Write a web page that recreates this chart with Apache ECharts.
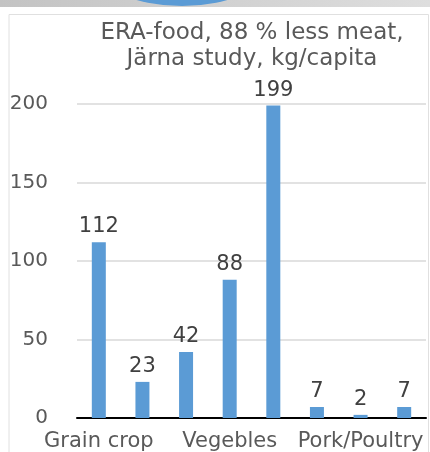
<!DOCTYPE html>
<html>
<head>
<meta charset="utf-8">
<script src="https://cdn.jsdelivr.net/npm/echarts@6/dist/echarts.min.js"></script>
<style>
  html, body { margin: 0; padding: 0; background: #fff; }
  #chart { width: 430px; height: 452px; }
</style>
</head>
<body>
<div id="chart"></div>
<script>
var categories = ['Grain crop', 'Legumes', 'Potatoes', 'Vegebles', 'Milk', 'Beef', 'Pork/Poultry', 'Eggs'];
var values = [112, 23, 42, 88, 199, 7, 2, 7];
var yTicks = [0, 50, 100, 150, 200];

var font = 'DejaVu Sans';
var chart = echarts.init(document.getElementById('chart'));
var option = {
    backgroundColor: '#fff',
    animation: false,
    title: {
        text: 'ERA-food, 88 % less meat,\nJärna study, kg/capita',
        left: 247,
        textAlign: 'center',
        top: 15,
        textStyle: {
            fontFamily: font,
            fontSize: 23,
            fontWeight: 'normal',
            color: '#595959',
            lineHeight: 26
        }
    },
    graphic: [
        // grey strip and blue shape at the very top of the picture
        { type: 'rect', shape: { x: 0, y: 0, width: 430, height: 7 },
          style: { fill: new echarts.graphic.LinearGradient(0, 0, 1, 0, [
              { offset: 0, color: '#c3c3c3' }, { offset: 1, color: '#dedede' }]) } },
        { type: 'circle', shape: { cx: 182, cy: -169, r: 175 }, style: { fill: '#5b9bd5' } },
        { type: 'polyline', shape: { points: [[9, 452], [9, 14.5], [428.5, 14.5], [428.5, 452]] },
          style: { stroke: '#e0e0e0', lineWidth: 1, fill: null } }
    ],
    grid: {
        left: 77,
        right: 4,
        top: 104,
        bottom: 34
    },
    xAxis: {
        type: 'category',
        data: categories,
        axisTick: { show: false },
        axisLine: { lineStyle: { color: '#000', width: 2 } },
        axisLabel: {
            interval: 2,
            margin: 13,
            fontFamily: font,
            fontSize: 21,
            color: '#595959'
        }
    },
    yAxis: {
        type: 'value',
        min: yTicks[0],
        max: yTicks[yTicks.length - 1],
        interval: yTicks[1] - yTicks[0],
        axisLine: { show: false },
        axisTick: { show: false },
        splitLine: { lineStyle: { color: '#d9d9d9', width: 1.5 } },
        axisLabel: {
            margin: 29,
            fontFamily: font,
            fontSize: 20,
            color: '#595959'
        }
    },
    series: [{
        type: 'bar',
        data: values,
        barWidth: 14,
        itemStyle: { color: '#5b9bd5' },
        label: {
            show: true,
            position: 'top',
            distance: 5,
            fontFamily: font,
            fontSize: 21,
            color: '#404040'
        }
    }]
};
chart.setOption(option);
</script>
</body>
</html>
